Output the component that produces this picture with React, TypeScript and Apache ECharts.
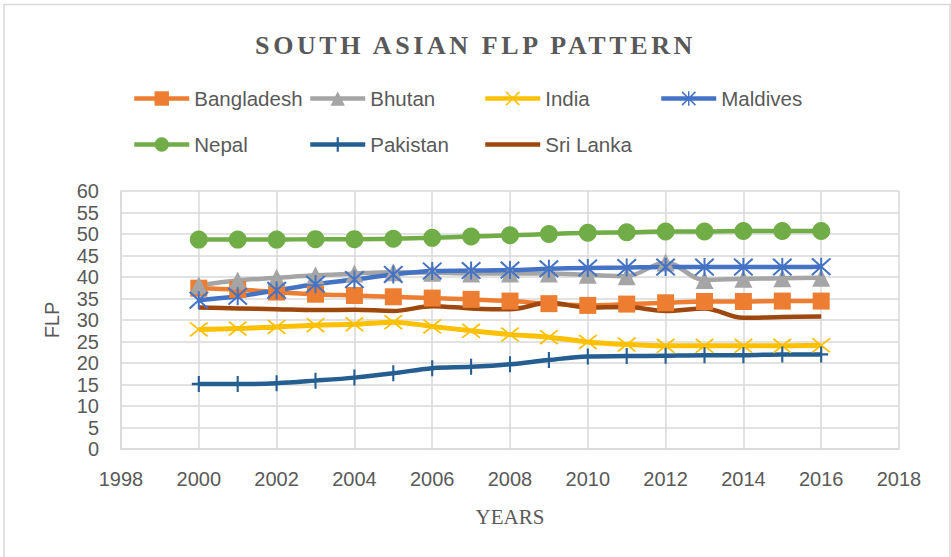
import React, { useEffect, useRef } from "react";
import * as echarts from "echarts";

const years = [2000, 2001, 2002, 2003, 2004, 2005, 2006, 2007, 2008, 2009, 2010, 2011, 2012, 2013, 2014, 2015, 2016];
const bangladesh = [37.4, 37.1, 36.5, 36.0, 35.7, 35.4, 35.1, 34.8, 34.4, 33.8, 33.4, 33.7, 34.0, 34.3, 34.3, 34.4, 34.4];
const bhutan = [38.1, 39.2, 39.8, 40.4, 40.8, 41.1, 41.0, 40.8, 40.8, 40.8, 40.5, 40.2, 43.4, 39.3, 39.6, 39.7, 39.8];
const india = [27.8, 28.0, 28.4, 28.8, 29.0, 29.5, 28.5, 27.5, 26.6, 26.0, 24.9, 24.3, 24.0, 24.0, 24.0, 24.0, 24.1];
const maldives = [34.6, 35.5, 36.9, 38.3, 39.4, 40.6, 41.4, 41.5, 41.6, 41.9, 42.1, 42.2, 42.3, 42.3, 42.3, 42.3, 42.4];
const nepal = [48.7, 48.7, 48.7, 48.8, 48.8, 48.9, 49.1, 49.4, 49.7, 50.0, 50.3, 50.4, 50.6, 50.6, 50.7, 50.7, 50.7];
const pakistan = [15.1, 15.1, 15.3, 15.9, 16.6, 17.6, 18.8, 19.1, 19.7, 20.7, 21.5, 21.6, 21.7, 21.8, 21.8, 22.0, 22.0];
const sriLanka = [32.9, 32.7, 32.5, 32.3, 32.4, 32.1, 33.2, 32.7, 32.5, 34.0, 32.9, 33.0, 32.1, 32.7, 30.5, 30.7, 30.8];

const seriesNames = ["Bangladesh", "Bhutan", "India", "Maldives", "Nepal", "Pakistan", "Sri Lanka"];
const seriesValues = [bangladesh, bhutan, india, maldives, nepal, pakistan, sriLanka];
const seriesColors = ["#ED7D31", "#A5A5A5", "#FFC000", "#4472C4", "#70AD47", "#255E91", "#9E480E"];

const TITLE = "SOUTH ASIAN FLP PATTERN";

const X_PATH = "M0,1.5L1.5,0L10,8.5L18.5,0L20,1.5L11.5,10L20,18.5L18.5,20L10,11.5L1.5,20L0,18.5L8.5,10Z";
const ASTER_PATH = X_PATH + "M9,0L11,0L11,20L9,20Z";
const PLUS_PATH = "M8.5,0L11.5,0L11.5,8.5L20,8.5L20,11.5L11.5,11.5L11.5,20L8.5,20L8.5,11.5L0,11.5L0,8.5L8.5,8.5Z";

const symbols: any[] = [
  { symbol: "rect", size: 17 },
  { symbol: "triangle", size: 18 },
  { symbol: "path://" + X_PATH, size: [19, 15] },
  { symbol: "path://" + ASTER_PATH, size: [20, 18] },
  { symbol: "circle", size: 18 },
  { symbol: "path://" + PLUS_PATH, size: [14, 16] },
  { symbol: "none", size: 0 },
];

const legendPos = [
  [132, 88], [308, 88], [483, 88], [659, 88],
  [132, 134], [308, 134], [483, 134],
];

export default function App() {
  const ref = useRef<HTMLDivElement>(null);
  useEffect(() => {
    if (!ref.current) return;
    const chart = echarts.init(ref.current, undefined, { renderer: "svg" });
    const labelFont = "Liberation Sans";
    const option: any = {
      animation: false,
      backgroundColor: "#ffffff",
      title: {
        text: TITLE,
        left: "center",
        top: 27,
        textStyle: {
          fontFamily: "Liberation Serif",
          fontWeight: "bold",
          fontSize: 26,
          color: "#595959",
        },
      },
      legend: seriesNames.map((n, i) => ({
        data: [n],
        left: legendPos[i][0],
        top: legendPos[i][1],
        padding: 0,
        itemWidth: 55,
        itemHeight: 18,
        selectedMode: false,
        lineStyle: { width: 4.5 },
        itemStyle: i === 6 ? { opacity: 0 } : {},
        textStyle: { fontFamily: labelFont, fontSize: 20.5, color: "#595959" },
      })),
      graphic: [
        {
          type: "rect",
          silent: true,
          shape: { x: 4, y: 4.5, width: 946, height: 560 },
          style: { fill: "none", stroke: "#d9d9d9", lineWidth: 1.5 },
        },
      ],
      grid: { left: 121, right: 52, top: 191, bottom: 108 },
      xAxis: {
        type: "value",
        min: 1998,
        max: 2018,
        interval: 2,
        name: "YEARS",
        nameLocation: "middle",
        nameGap: 57,
        nameTextStyle: { fontFamily: "Liberation Serif", fontSize: 21, color: "#595959" },
        axisLine: { show: true, lineStyle: { color: "#d9d9d9", width: 1.5 } },
        axisTick: { show: false },
        axisLabel: {
          margin: 20,
          fontFamily: labelFont,
          fontSize: 20,
          color: "#595959",
          formatter: (v: number) => String(v),
        },
        splitLine: { show: true, lineStyle: { color: "#d9d9d9", width: 1.5 } },
      },
      yAxis: {
        type: "value",
        min: 0,
        max: 60,
        interval: 5,
        name: "FLP",
        nameLocation: "middle",
        nameGap: 59,
        nameRotate: 90,
        nameTextStyle: { fontFamily: labelFont, fontSize: 20, color: "#595959" },
        axisLine: { show: true, lineStyle: { color: "#d9d9d9", width: 1.5 } },
        axisTick: { show: false },
        axisLabel: { margin: 22, fontFamily: labelFont, fontSize: 20, color: "#595959" },
        splitLine: { show: true, lineStyle: { color: "#d9d9d9", width: 1.5 } },
      },
      series: seriesNames.map((n, i) => ({
        name: n,
        type: "line",
        smooth: 0.35,
        data: years.map((y, j) => [y, seriesValues[i][j]]),
        symbol: symbols[i].symbol,
        symbolSize: symbols[i].size,
        showAllSymbol: true,
        lineStyle: { color: seriesColors[i], width: i === 2 ? 5 : 4.5 },
        itemStyle: { color: seriesColors[i], borderWidth: 0 },
        emphasis: { disabled: true },
      })),
    };
    chart.setOption(option);
    const applySpacing = () => {
      const root = ref.current;
      if (!root) return;
      root.querySelectorAll("text").forEach((t) => {
        if (t.textContent === TITLE) {
          (t as SVGTextElement).style.letterSpacing = "3.6px";
        }
      });
    };
    chart.on("finished", applySpacing);
    const timer = setTimeout(applySpacing, 50);
    return () => {
      clearTimeout(timer);
      chart.dispose();
    };
  }, []);
  return (
    <div
      ref={ref}
      style={{ position: "fixed", left: 0, top: 0, width: 951, height: 557, background: "#fff" }}
    />
  );
}
